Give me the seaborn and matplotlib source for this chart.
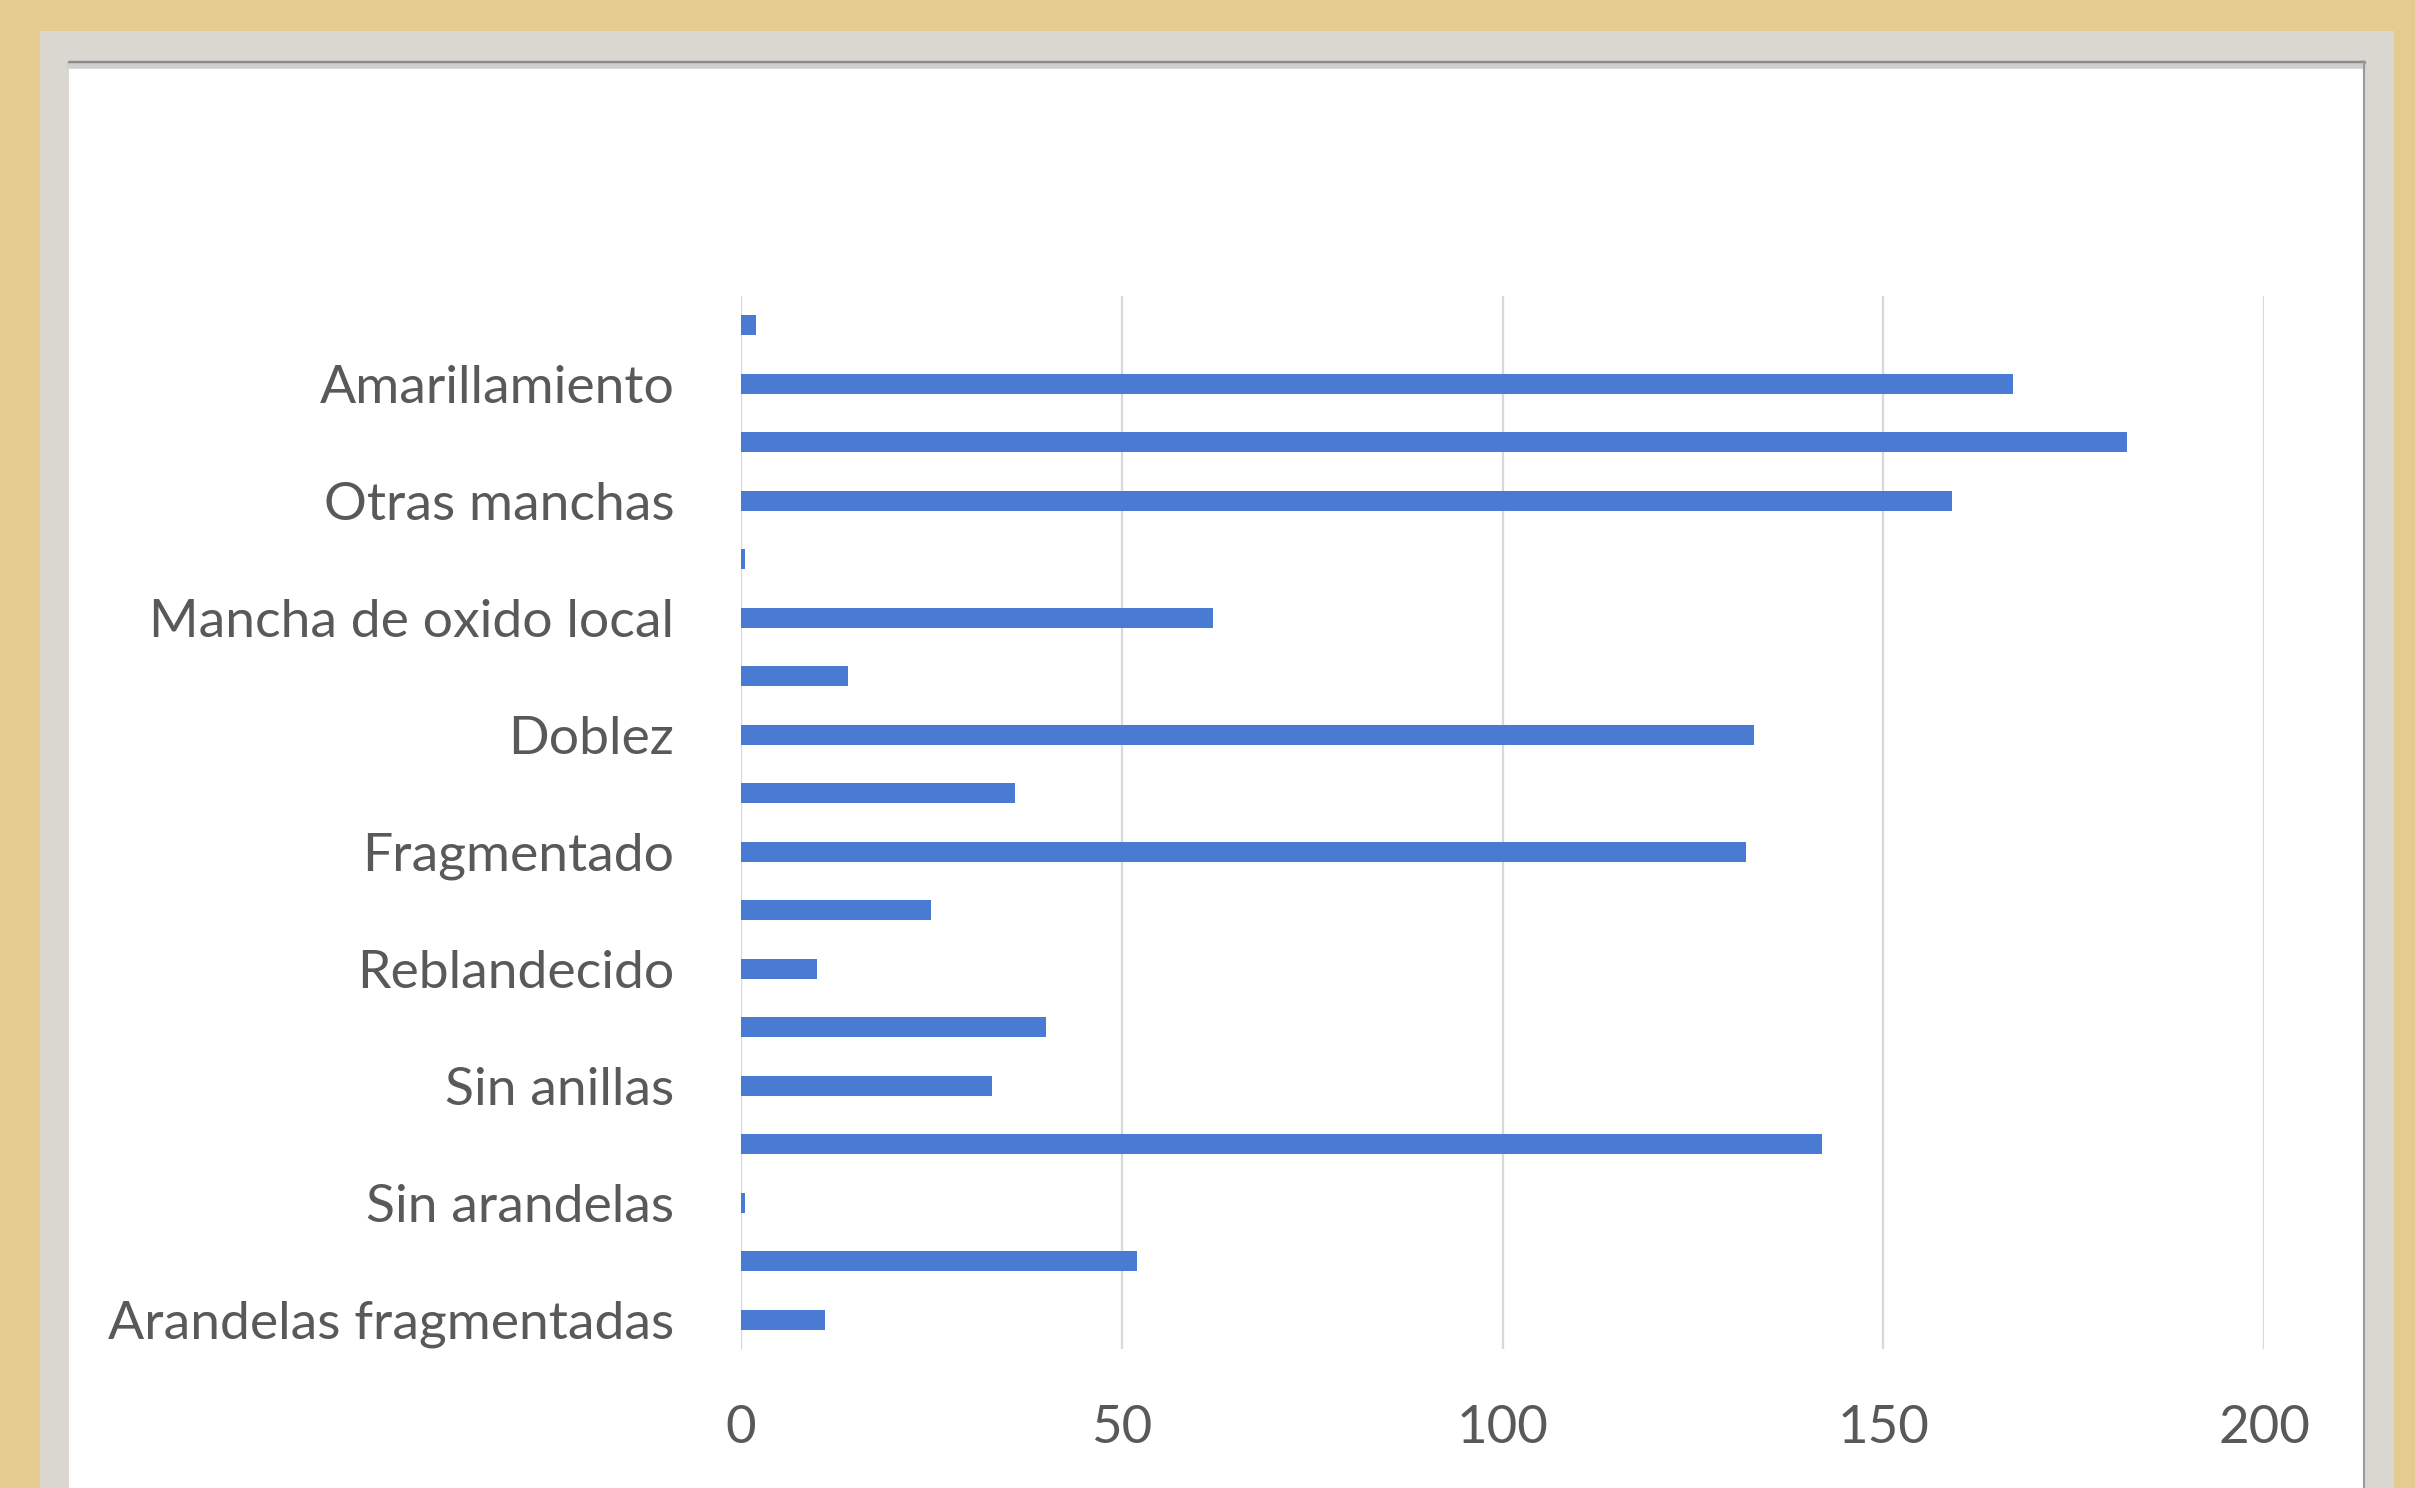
import matplotlib
matplotlib.use("Agg")
import matplotlib.pyplot as plt
import seaborn as sns
import pandas as pd
from matplotlib.patches import Rectangle

# ---- data (top to bottom) ----
tick_labels = ["", "Amarillamiento", "", "Otras manchas", "", "Mancha de oxido local",
               "", "Doblez", "", "Fragmentado", "", "Reblandecido", "", "Sin anillas",
               "", "Sin arandelas", "", "Arandelas fragmentadas"]
values = [2, 167, 182, 159, 0.5, 62, 14, 133, 36, 132, 25, 10, 40, 33, 142, 0.5, 52, 11]
x_ticks = [0, 50, 100, 150, 200]

slots = [str(i) for i in range(len(values))]
df = pd.DataFrame({"slot": slots, "value": values})

sns.set_theme(style="white")
plt.rcParams["font.family"] = ["Lato", "DejaVu Sans"]

W, H = 2415, 1488
fig = plt.figure(figsize=(W / 100, H / 100), dpi=100)
fig.patch.set_facecolor("#E5CB8F")

# frame
fig.add_artist(Rectangle((40 / W, 0), (2394 - 40) / W, (H - 31) / H,
                         transform=fig.transFigure, facecolor="#D9D7D0", edgecolor="none", zorder=0))
fig.add_artist(Rectangle((69 / W, 0), (2364 - 69) / W, (H - 61) / H,
                         transform=fig.transFigure, facecolor="white", edgecolor="none", zorder=0))
# shadow lines
fig.add_artist(plt.Line2D([69 / W, 2364 / W], [(H - 62) / H] * 2, transform=fig.transFigure,
                          color="#8a8a8a", lw=2.5, zorder=1))
fig.add_artist(plt.Line2D([69 / W, 2364 / W], [(H - 66) / H] * 2, transform=fig.transFigure,
                          color="#cfcfcf", lw=4, zorder=1))
fig.add_artist(plt.Line2D([2364 / W] * 2, [0, (H - 61) / H], transform=fig.transFigure,
                          color="#9a9a9a", lw=1.5, zorder=1))

left, right = 741 / W, 2264 / W
top, bottom = (H - 296) / H, (H - 1349) / H
ax = fig.add_axes([left, bottom, right - left, top - bottom])
ax.set_facecolor("none")

sns.barplot(data=df, x="value", y="slot", order=slots, orient="h",
            color="#4A7BD3", saturation=1, width=0.34, linewidth=0, ax=ax, zorder=3)

ax.set_xlim(0, 200)
ax.set_ylim(len(values) - 0.5, -0.5)
ax.set_xticks(x_ticks)
ax.set_xticklabels([str(t) for t in x_ticks])
ax.set_yticks(range(len(values)))
ax.set_yticklabels(tick_labels)
for s in ax.spines.values():
    s.set_visible(False)
ax.grid(axis="x", color="#D9D9D9", lw=1.6, zorder=0)
ax.grid(axis="y", visible=False)
ax.tick_params(axis="y", length=0, pad=48, labelsize=38.5, labelcolor="#595959")
ax.tick_params(axis="x", length=0, pad=40, labelsize=38, labelcolor="#595959")
ax.set_xlabel("")
ax.set_ylabel("")

fig.savefig("out.png", dpi=100, facecolor=fig.get_facecolor())
